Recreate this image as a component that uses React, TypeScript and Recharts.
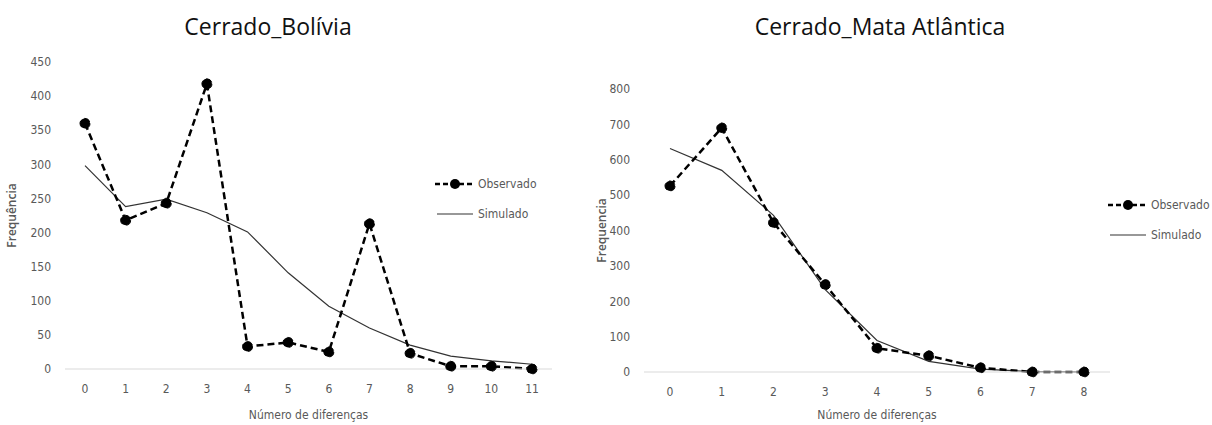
import React from 'react';
import { LineChart, Line, XAxis, YAxis } from 'recharts';

const bolCategories = ['0', '1', '2', '3', '4', '5', '6', '7', '8', '9', '10', '11'];
const bolObserved = [360, 218, 243, 418, 33, 39, 25, 213, 23, 4, 4, 0];
const bolSimulated = [298, 238, 249, 229, 201, 141, 92, 60, 35, 19, 12, 7];
const bolTicks = [0, 50, 100, 150, 200, 250, 300, 350, 400, 450];

const mataCategories = ['0', '1', '2', '3', '4', '5', '6', '7', '8'];
const mataObserved = [526, 690, 422, 247, 67, 46, 12, 0, 0];
const mataSimulated = [632, 570, 443, 233, 89, 30, 8, 1, 0];
const mataTicks = [0, 100, 200, 300, 400, 500, 600, 700, 800];

const FONT = '"Liberation Sans Narrow", "DejaVu Sans Condensed", "Liberation Sans", sans-serif';
const GRAY = '#595959';

const LegendBox = () => (
  <svg width={110} height={50} style={{ overflow: 'visible' }}>
    <line x1={0} y1={8} x2={40} y2={8} stroke="#000" strokeWidth={2.5} strokeDasharray="5 3" />
    <circle cx={20} cy={8} r={5} fill="#000" />
    <text x={43} y={12} fontSize={12} fill={GRAY} fontFamily={FONT}>Observado</text>
    <line x1={2} y1={38} x2={38} y2={38} stroke="#333" strokeWidth={1.2} />
    <text x={43} y={42} fontSize={12} fill={GRAY} fontFamily={FONT}>Simulado</text>
  </svg>
);

interface PanelProps {
  title: string;
  categories: string[];
  observed: number[];
  simulated: number[];
  ticks: number[];
  yLabel: string;
  width: number;
  margin: { top: number; right: number; bottom: number; left: number };
  yAxisWidth: number;
  xPad: number;
  legendPos: { left: number; top: number };
  titleLeft: number;
  xLabelOffset: number;
}

const Panel: React.FC<PanelProps> = ({
  title, categories, observed, simulated, ticks, yLabel, width, margin, yAxisWidth, xPad, legendPos, titleLeft, xLabelOffset
}) => {
  const data = categories.map((c, i) => ({ name: c, obs: observed[i], sim: simulated[i] }));
  return (
    <div style={{ position: 'relative', width, height: 425 }}>
      <div
        style={{
          position: 'absolute', left: titleLeft, top: 10, width: 0, display: 'flex', justifyContent: 'center',
          fontFamily: '"Open Sans", sans-serif', fontSize: 23, color: '#111', whiteSpace: 'nowrap'
        }}
      >
        {title}
      </div>
      <LineChart width={width} height={425} data={data} margin={margin}>
        <XAxis
          dataKey="name"
          padding={{ left: xPad, right: xPad }}
          axisLine={{ stroke: '#d9d9d9', strokeWidth: 1 }}
          tickLine={false}
          tickMargin={9}
          height={52}
          tick={{ fill: GRAY, fontSize: 12, fontFamily: FONT }}
          interval={0}
          label={{ value: 'Número de diferenças', position: 'insideBottom', offset: xLabelOffset, fill: GRAY, fontSize: 12, fontFamily: FONT }}
        />
        <YAxis
          domain={[ticks[0], ticks[ticks.length - 1]]}
          ticks={ticks}
          axisLine={false}
          tickLine={false}
          tickMargin={8}
          width={yAxisWidth}
          tick={{ fill: GRAY, fontSize: 12, fontFamily: FONT }}
          label={{ value: yLabel, angle: -90, position: 'insideLeft', offset: 12, fill: GRAY, fontSize: 12, fontWeight: 600, fontFamily: '"Open Sans", sans-serif', style: { textAnchor: 'middle' } }}
        />
        <Line
          dataKey="sim"
          name="Simulado"
          stroke="#333"
          strokeWidth={1.2}
          dot={false}
          isAnimationActive={false}
        />
        <Line
          dataKey="obs"
          name="Observado"
          stroke="#000"
          strokeWidth={2.5}
          strokeDasharray="7 4"
          dot={{ r: 5, fill: '#000', stroke: '#000', strokeWidth: 1 }}
          isAnimationActive={false}
        />
      </LineChart>
      <div style={{ position: 'absolute', left: legendPos.left, top: legendPos.top }}>
        <LegendBox />
      </div>
    </div>
  );
};

export default function App() {
  return (
    <div style={{ position: 'absolute', left: 0, top: 0, width: 1212, height: 425, background: '#fff' }}>
      <div style={{ position: 'absolute', left: 0, top: 0 }}>
        <Panel
          title="Cerrado_Bolívia"
          categories={bolCategories}
          observed={bolObserved}
          simulated={bolSimulated}
          ticks={bolTicks}
          yLabel="Frequência"
          width={570}
          margin={{ top: 62, right: 18, bottom: 4, left: 0 }}
          yAxisWidth={65}
          xPad={20}
          legendPos={{ left: 435, top: 176 }}
          titleLeft={268}
          xLabelOffset={2}
        />
      </div>
      <div style={{ position: 'absolute', left: 590, top: 0 }}>
        <Panel
          title="Cerrado_Mata Atlântica"
          categories={mataCategories}
          observed={mataObserved}
          simulated={mataSimulated}
          ticks={mataTicks}
          yLabel="Frequencia"
          width={622}
          margin={{ top: 89, right: 102, bottom: 1, left: 0 }}
          yAxisWidth={54}
          xPad={26}
          legendPos={{ left: 518, top: 197 }}
          titleLeft={290}
          xLabelOffset={5}
        />
      </div>
    </div>
  );
}
